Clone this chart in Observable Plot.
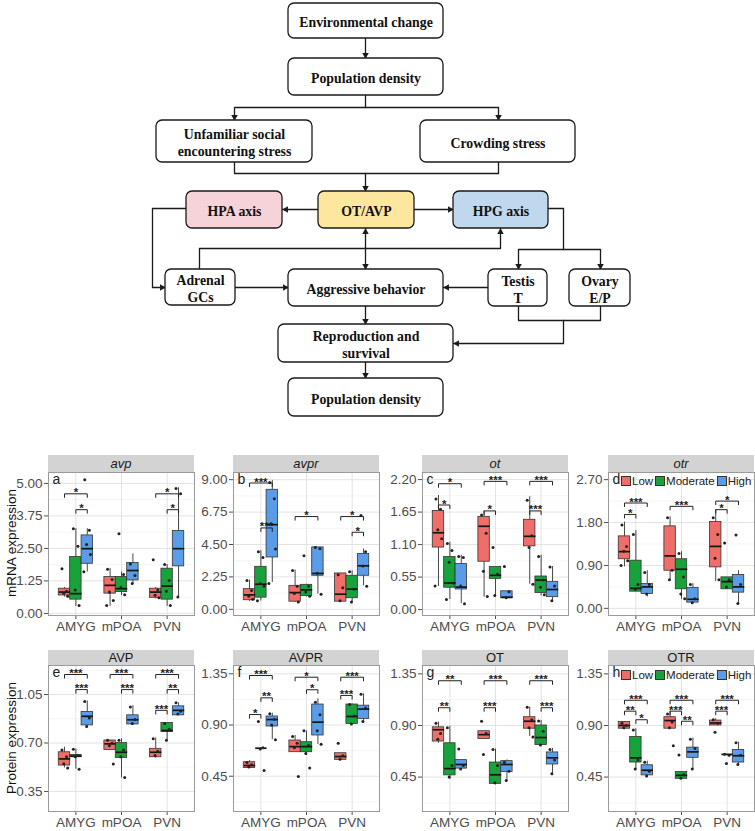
<!DOCTYPE html>
<html><head><meta charset="utf-8">
<script src="https://cdn.jsdelivr.net/npm/d3@7"></script>
<script src="https://cdn.jsdelivr.net/npm/@observablehq/plot@0.6"></script>
<style>
body{margin:0;background:#fff;}
#root{position:relative;width:755px;height:831px;overflow:hidden;font-family:"Liberation Sans",Arial,sans-serif;background:#fff;}
#root svg{overflow:visible;}
.strip{position:absolute;background:#d3d3d3;color:#1a1a1a;font-size:13px;text-align:center;}
.ytitle{position:absolute;font-size:13.5px;color:#111;white-space:nowrap;transform:translate(-50%,-50%) rotate(-90deg);}
.legend{position:absolute;font-size:11.5px;color:#222;display:flex;align-items:center;white-space:nowrap;}
.legend .key{display:inline-block;width:8px;height:8px;border:1px solid #333;margin:0 1px 0 2px;}
</style></head><body><div id="root"></div><script>
// ---------------- flowchart data ----------------
const flowNodes = [
  {label:"Environmental change", x1:288, x2:443, y1:3, y2:38, fill:"#ffffff"},
  {label:"Population density", x1:288, x2:443, y1:58, y2:95, fill:"#ffffff"},
  {label:"Unfamiliar social\nencountering stress", x1:156, x2:312, y1:120, y2:162, fill:"#ffffff"},
  {label:"Crowding stress", x1:420, x2:575, y1:120, y2:162, fill:"#ffffff"},
  {label:"HPA axis", x1:186, x2:282, y1:191, y2:228, fill:"#f6d2d9"},
  {label:"OT/AVP", x1:318, x2:414, y1:191, y2:228, fill:"#fde69d"},
  {label:"HPG axis", x1:453, x2:548, y1:191, y2:228, fill:"#bfd8ee"},
  {label:"Adrenal\nGCs", x1:165, x2:235, y1:269, y2:305, fill:"#ffffff"},
  {label:"Aggressive behavior", x1:288, x2:443, y1:269, y2:306, fill:"#ffffff"},
  {label:"Testis\nT", x1:488, x2:547, y1:269, y2:306, fill:"#ffffff"},
  {label:"Ovary\nE/P", x1:569, x2:630, y1:269, y2:306, fill:"#ffffff"},
  {label:"Reproduction and\nsurvival", x1:278, x2:453, y1:324, y2:362, fill:"#ffffff"},
  {label:"Population density", x1:288, x2:443, y1:378, y2:416, fill:"#ffffff"}
];
const flowEdges = [
  {pts:[[365,38],[365,58]], head:"end"},
  {pts:[[365,95],[365,107],[234,107],[234,120]], head:"end"},
  {pts:[[365,107],[498,107],[498,120]], head:"end"},
  {pts:[[234,162],[234,173],[498,173],[498,162]], head:"none"},
  {pts:[[365,173],[365,191]], head:"end"},
  {pts:[[318,209],[282,209]], head:"end"},
  {pts:[[414,209],[453,209]], head:"end"},
  {pts:[[186,208],[152,208],[152,287],[165,287]], head:"end"},
  {pts:[[199,269],[199,248],[500,248],[500,228]], head:"end"},
  {pts:[[365,228],[365,269]], head:"both"},
  {pts:[[235,287],[288,287]], head:"end"},
  {pts:[[548,208],[563,208],[563,249],[518,249],[518,269]], head:"end"},
  {pts:[[563,249],[600,249],[600,269]], head:"end"},
  {pts:[[488,287],[443,287]], head:"end"},
  {pts:[[518,306],[518,320],[600,320],[600,306]], head:"none"},
  {pts:[[563,320],[563,343],[453,343]], head:"end"},
  {pts:[[365,306],[365,324]], head:"end"},
  {pts:[[365,362],[365,378]], head:"end"}
];

// ---------------- box plot data ----------------
const regions = ["AMYG","mPOA","PVN"];
const groups = ["Low","Moderate","High"];
const groupColors = ["#ef6e69","#17a23c","#5b9ce8"];
const panelTitles = ["avp","avpr","ot","otr","AVP","AVPR","OT","OTR"];
const panelLetters = ["a","b","c","d","e","f","g","h"];
const yTitles = ["mRNA expression","Protein expression"];
const yTicks = [
  [0,1.25,2.5,3.75,5],[0,2.25,4.5,6.75,9],[0,0.55,1.1,1.65,2.2],[0,0.9,1.8,2.7],
  [0.35,0.7,1.05],[0.45,0.9,1.35],[0.45,0.9,1.35],[0.45,0.9,1.35]
];
const yDomains = [
  [-0.08,5.42],[-0.43,9.5],[-0.1,2.32],[-0.15,2.85],
  [0.205,1.26],[0.14,1.423],[0.15,1.423],[0.15,1.423]
];
// rows: region, group, lower whisker, q1, median, q3, upper whisker, observations
const avpRows = [
  ["AMYG","Low",0.63,0.69,0.82,0.95,1.0,[1.72,0.85,0.78,0.66]],
  ["AMYG","Moderate",0.27,0.53,0.76,2.17,3.26,[3.26,2.58,0.9,0.3]],
  ["AMYG","High",1.59,1.91,2.49,3.0,3.26,[5.14,3.2,2.65,2.27,1.6]],
  ["mPOA","Low",0.27,0.76,1.08,1.40,1.72,[1.7,1.3,0.82,0.5,0.3]],
  ["mPOA","Moderate",0.69,0.82,0.95,1.40,1.59,[3.06,1.5,1.0,0.72]],
  ["mPOA","High",1.12,1.27,1.65,1.94,2.29,[1.9,1.46,1.15]],
  ["PVN","Low",0.56,0.60,0.82,0.95,1.0,[2.06,0.9,0.7,0.6]],
  ["PVN","Moderate",0.27,0.53,1.05,1.72,1.88,[1.88,1.27,0.85,0.3]],
  ["PVN","High",0.63,1.81,2.49,3.17,4.83,[4.8,4.6,0.63]]
];
const avprRows = [
  ["AMYG","Low",0.55,0.63,1.0,1.40,2.02,[2.0,1.3,0.9,0.7]],
  ["AMYG","Moderate",0.58,0.81,1.74,2.95,4.07,[4.0,3.6,1.8,1.6,0.6]],
  ["AMYG","High",1.86,3.60,5.88,8.30,8.95,[8.8,7.67,5.9,4.19,1.8]],
  ["mPOA","Low",0.47,0.53,1.16,1.63,2.72,[2.7,1.6,1.1,0.5]],
  ["mPOA","Moderate",0.86,0.93,1.35,1.70,1.74,[3.72,1.6,1.2,0.9]],
  ["mPOA","High",1.05,2.33,2.49,4.30,4.30,[4.3,4.2,2.5,1.05]],
  ["PVN","Low",0.53,0.53,1.05,2.49,2.49,[2.4,1.5,0.6]],
  ["PVN","Moderate",0.47,0.77,1.40,2.33,2.67,[2.6,1.4,0.5]],
  ["PVN","High",1.63,2.33,3.02,3.84,4.19,[6.51,4.0,3.0,1.6]]
];
const otRows = [
  ["AMYG","Low",0.39,1.05,1.30,1.67,1.93,[1.87,1.7,1.35,1.2,0.4]],
  ["AMYG","Moderate",0.17,0.37,0.45,0.89,1.14,[1.12,1.0,0.8,0.45,0.17]],
  ["AMYG","High",0.10,0.34,0.38,0.77,0.92,[0.9,0.88,0.4,0.1]],
  ["mPOA","Low",0.21,0.81,1.41,1.57,1.67,[1.6,1.29,0.65,0.22]],
  ["mPOA","Moderate",0.24,0.52,0.58,0.72,0.72,[1.05,0.6,0.24]],
  ["mPOA","High",0.19,0.19,0.21,0.31,0.31,[0.73,0.3,0.2]],
  ["PVN","Low",0.43,1.07,1.24,1.52,1.91,[1.85,1.25,1.05,0.43]],
  ["PVN","Moderate",0.23,0.28,0.50,0.56,0.92,[0.9,0.5,0.38,0.25]],
  ["PVN","High",0.13,0.21,0.34,0.47,0.73,[0.72,0.4,0.15]]
];
const otrRows = [
  ["AMYG","Low",0.87,1.03,1.19,1.51,1.81,[1.75,1.3,1.2,1.0,0.9]],
  ["AMYG","Moderate",0.35,0.35,0.42,1.0,1.63,[1.55,0.5,0.4]],
  ["AMYG","High",0.24,0.30,0.45,0.51,0.79,[0.75,0.5,0.3]],
  ["mPOA","Low",0.58,0.79,1.10,1.72,1.92,[1.9,0.8,0.6]],
  ["mPOA","Moderate",0.19,0.40,0.82,1.03,1.19,[1.15,0.66,0.3,0.2]],
  ["mPOA","High",0.10,0.12,0.19,0.43,0.52,[0.5,0.2,0.12]],
  ["PVN","Low",0.56,0.86,1.30,1.81,2.07,[1.9,1.55,1.05,0.6]],
  ["PVN","Moderate",0.40,0.40,0.56,0.65,0.65,[1.37,0.6,0.45]],
  ["PVN","High",0.10,0.33,0.45,0.70,0.79,[1.54,0.5,0.1]]
];
const avpProtRows = [
  ["AMYG","Low",0.52,0.537,0.585,0.633,0.67,[0.65,0.6,0.55,0.52]],
  ["AMYG","Moderate",0.51,0.597,0.605,0.614,0.657,[0.655,0.61,0.6,0.51]],
  ["AMYG","High",0.81,0.827,0.893,0.924,1.004,[1.0,0.88,0.82]],
  ["mPOA","Low",0.65,0.65,0.694,0.718,0.72,[0.72,0.7,0.68,0.549]],
  ["mPOA","Moderate",0.447,0.592,0.633,0.699,0.73,[0.72,0.65,0.6,0.45]],
  ["mPOA","High",0.827,0.834,0.868,0.90,0.97,[0.96,0.87,0.84]],
  ["PVN","Low",0.59,0.597,0.633,0.658,0.737,[0.73,0.64,0.61]],
  ["PVN","Moderate",0.723,0.779,0.79,0.844,0.844,[0.84,0.8,0.72]],
  ["PVN","High",0.90,0.90,0.936,0.965,0.99,[0.99,0.93,0.91]]
];
const avprProtRows = [
  ["AMYG","Low",0.523,0.523,0.544,0.573,0.588,[0.57,0.55,0.53]],
  ["AMYG","Moderate",0.696,0.696,0.696,0.696,0.696,[0.93,0.70,0.69,0.5]],
  ["AMYG","High",0.77,0.887,0.948,0.975,1.004,[1.0,0.95,0.9,0.77]],
  ["mPOA","Low",0.661,0.661,0.71,0.764,0.808,[0.8,0.74,0.7,0.447]],
  ["mPOA","Moderate",0.632,0.661,0.71,0.749,0.846,[0.85,0.72,0.65,0.523]],
  ["mPOA","High",0.729,0.808,0.925,1.08,1.13,[1.1,0.99,0.85,0.73]],
  ["PVN","Low",0.594,0.594,0.623,0.652,0.652,[0.74,0.63,0.6]],
  ["PVN","Moderate",0.904,0.91,0.975,1.08,1.086,[1.08,0.98,0.91]],
  ["PVN","High",0.925,0.954,1.04,1.07,1.174,[1.17,1.05,0.93]]
];
const otProtRows = [
  ["AMYG","Low",0.745,0.76,0.863,0.884,0.93,[0.92,0.83,0.78]],
  ["AMYG","Moderate",0.43,0.465,0.524,0.745,0.893,[0.88,0.55,0.45]],
  ["AMYG","High",0.51,0.524,0.56,0.598,0.598,[0.695,0.55,0.52]],
  ["mPOA","Low",0.783,0.783,0.82,0.85,0.85,[0.937,0.83,0.648]],
  ["mPOA","Moderate",0.382,0.391,0.47,0.577,0.695,[0.69,0.55,0.4]],
  ["mPOA","High",0.42,0.494,0.56,0.589,0.6,[0.58,0.5,0.42]],
  ["PVN","Low",0.804,0.872,0.937,0.972,1.06,[1.06,0.95,0.88,0.8]],
  ["PVN","Moderate",0.724,0.73,0.795,0.90,0.943,[0.94,0.85,0.73]],
  ["PVN","High",0.48,0.56,0.618,0.665,0.70,[0.69,0.6,0.48]]
];
const otrProtRows = [
  ["AMYG","Low",0.863,0.872,0.90,0.931,0.931,[0.92,0.9,0.88]],
  ["AMYG","Moderate",0.51,0.577,0.618,0.80,0.872,[0.86,0.6,0.52]],
  ["AMYG","High",0.45,0.465,0.51,0.553,0.589,[0.58,0.5,0.46]],
  ["mPOA","Low",0.872,0.872,0.943,0.972,1.025,[1.0,0.93,0.88,0.724]],
  ["mPOA","Moderate",0.435,0.435,0.465,0.494,0.494,[0.642,0.47,0.44]],
  ["mPOA","High",0.518,0.618,0.67,0.707,0.79,[0.78,0.7,0.52]],
  ["PVN","Low",0.90,0.90,0.922,0.943,0.96,[0.95,0.92,0.842]],
  ["PVN","Moderate",0.648,0.648,0.648,0.648,0.648,[0.65,0.64,0.568]],
  ["PVN","High",0.553,0.577,0.636,0.686,0.754,[0.75,0.64,0.56]]
];
// significance brackets: region, group A, group B, bracket level, label
const avpSig = [["AMYG","Low","High",4.60,"*"],["AMYG","Moderate","High",3.99,"*"],["PVN","Low","High",4.60,"*"],["PVN","Moderate","High",3.99,"*"]];
const avprSig = [["AMYG","Low","High",8.77,"***"],["AMYG","Moderate","High",5.65,"***"],["mPOA","Low","High",6.44,"*"],["PVN","Low","High",6.44,"*"],["PVN","Moderate","High",5.35,"*"]];
const otSig = [["AMYG","Low","High",2.13,"*"],["AMYG","Low","Moderate",1.77,"*"],["mPOA","Low","High",2.17,"***"],["mPOA","Low","Moderate",1.67,"*"],["PVN","Low","High",2.17,"***"],["PVN","Low","Moderate",1.67,"***"]];
const otrSig = [["AMYG","Low","High",2.21,"***"],["AMYG","Low","Moderate",1.97,"*"],["mPOA","Low","High",2.14,"***"],["PVN","Low","High",2.25,"*"],["PVN","Low","Moderate",2.07,"*"]];
const avpProtSig = [["AMYG","Low","High",1.195,"***"],["AMYG","Moderate","High",1.086,"***"],["mPOA","Low","High",1.195,"***"],["mPOA","Moderate","High",1.086,"***"],["PVN","Low","High",1.195,"***"],["PVN","Moderate","High",1.086,"**"],["PVN","Low","Moderate",0.936,"***"]];
const avprProtSig = [["AMYG","Low","High",1.335,"***"],["AMYG","Low","Moderate",0.992,"*"],["AMYG","Moderate","High",1.139,"**"],["mPOA","Low","High",1.32,"*"],["mPOA","Moderate","High",1.21,"*"],["PVN","Low","High",1.32,"***"],["PVN","Low","Moderate",1.16,"***"]];
const otProtSig = [["AMYG","Low","High",1.29,"**"],["AMYG","Low","Moderate",1.055,"**"],["mPOA","Low","High",1.29,"***"],["mPOA","Low","Moderate",1.055,"***"],["PVN","Low","High",1.29,"***"],["PVN","Moderate","High",1.055,"***"]];
const otrProtSig = [["AMYG","Low","High",1.12,"***"],["AMYG","Low","Moderate",1.025,"**"],["AMYG","Moderate","High",0.95,"*"],["mPOA","Low","High",1.12,"***"],["mPOA","Low","Moderate",1.025,"***"],["mPOA","Moderate","High",0.937,"**"],["PVN","Low","High",1.12,"***"],["PVN","Low","Moderate",1.025,"***"]];

const panelRows = [avpRows,avprRows,otRows,otrRows,avpProtRows,avprProtRows,otProtRows,otrProtRows];
const panelSig = [avpSig,avprSig,otSig,otrSig,avpProtSig,avprProtSig,otProtSig,otrProtSig];

// ---------------- layout (styling) ----------------
const root = document.getElementById("root");
const frameLefts = [48,233,422,608];
const frameW = 146;
const rowGeom = [{strip:455, top:472, h:143}, {strip:650, top:665, h:146}];
const ML = 40;
const serif = "Liberation Serif, Times New Roman, serif";
const sans = "Liberation Sans, Arial, sans-serif";

function place(el, left, top) {
  el.style.position = "absolute"; el.style.left = left + "px"; el.style.top = top + "px";
  root.appendChild(el);
}

// ---------------- flowchart ----------------
const edgeRows = [];
const heads = [];
flowEdges.forEach((e, i) => {
  e.pts.forEach(p => edgeRows.push({id: i, x: p[0], y: p[1]}));
  const addHead = (a, b) => {
    const dx = b[0]-a[0], dy = b[1]-a[1], L = Math.hypot(dx, dy);
    const ux = dx/L, uy = dy/L;
    heads.push({x: b[0]-ux*3.6, y: b[1]-uy*3.6, rot: Math.atan2(ux, -uy)*180/Math.PI});
  };
  const n = e.pts.length;
  if (e.head === "end" || e.head === "both") addHead(e.pts[n-2], e.pts[n-1]);
  if (e.head === "both") addHead(e.pts[1], e.pts[0]);
});
const flow = Plot.plot({
  width: 755, height: 425, margin: 0,
  x: {domain: [0, 755], range: [0, 755], axis: null},
  y: {domain: [0, 425], range: [0, 425], axis: null},
  marks: [
    Plot.line(edgeRows, {x: "x", y: "y", z: "id", stroke: "#1a1a1a", strokeWidth: 1.3, curve: "linear"}),
    Plot.dot(heads, {x: "x", y: "y", rotate: "rot", symbol: "triangle", r: 2.4, fill: "#1a1a1a", stroke: "none"}),
    Plot.rect(flowNodes, {x1: "x1", x2: "x2", y1: "y1", y2: "y2", fill: "fill", stroke: "#1a1a1a", strokeWidth: 1.3, rx: 6}),
    Plot.text(flowNodes, {x: d => (d.x1+d.x2)/2, y: d => (d.y1+d.y2)/2 + 1, text: "label",
      fontFamily: serif, fontWeight: "bold", fontSize: 13.8, lineHeight: 1.22, fill: "#111"})
  ]
});
place(flow, 0, 0);

// ---------------- panels ----------------
const jitter = [-0.055, 0.045, -0.015, 0.07, -0.075, 0.02];
function groupX(region, group) {
  return regions.indexOf(region) + 1 + (groups.indexOf(group) - 1) * 0.25;
}
function makePanel(i) {
  const rows = panelRows[i].map(([r, g, lo, q1, med, q3, hi, pts]) => ({r, g, lo, q1, med, q3, hi, pts, xc: groupX(r, g)}));
  const points = rows.flatMap(d => d.pts.map((v, k) => ({x: d.xc + jitter[k % jitter.length], y: v})));
  const dom = yDomains[i];
  const tip = (dom[1] - dom[0]) * 0.025;
  const sig = panelSig[i].map(([r, a, b, y, label], k) => ({k, r, xa: groupX(r, a), xb: groupX(r, b), y, label}));
  const sigLines = sig.flatMap(s => [
    {k: s.k, x: s.xa, y: s.y - tip}, {k: s.k, x: s.xa, y: s.y}, {k: s.k, x: s.xb, y: s.y}, {k: s.k, x: s.xb, y: s.y - tip}
  ]);
  const ticks = yTicks[i];
  const step = ticks[1] - ticks[0];
  const minor = [ticks[0] - step/2, ...ticks.map(t => t + step/2)].filter(t => t > dom[0] && t < dom[1]);
  const row = i < 4 ? 0 : 1;
  const g = rowGeom[row];
  const hw = 0.125;
  const plot = Plot.plot({
    width: ML + frameW + 1, height: g.h + 1 + 28,
    marginLeft: ML, marginRight: 1, marginTop: 1, marginBottom: 28,
    style: {fontFamily: sans, fontSize: "13.5px", color: "#4d4d4d", background: "transparent", overflow: "visible"},
    x: {domain: [0.4, 3.6], ticks: [1, 2, 3], tickFormat: d => regions[d - 1], tickSize: 4, tickPadding: 2, label: null},
    y: {domain: dom, ticks: ticks, tickFormat: d3.format(".2f"), tickSize: 4, tickPadding: 2, label: null},
    color: {domain: groups, range: groupColors},
    marks: [
      Plot.ruleY(minor, {stroke: "#f2f2f2", strokeWidth: 0.8}),
      Plot.ruleY(ticks, {stroke: "#e3e3e3", strokeWidth: 1}),
      Plot.ruleX([1, 2, 3], {stroke: "#e3e3e3", strokeWidth: 1}),
      Plot.ruleX(rows, {x: "xc", y1: "lo", y2: "q1", stroke: "#333", strokeWidth: 0.9}),
      Plot.ruleX(rows, {x: "xc", y1: "q3", y2: "hi", stroke: "#333", strokeWidth: 0.9}),
      Plot.rect(rows, {x1: d => d.xc - hw, x2: d => d.xc + hw, y1: "q1", y2: "q3", fill: "g", stroke: "#333", strokeWidth: 0.8}),
      Plot.link(rows, {x1: d => d.xc - hw, x2: d => d.xc + hw, y1: "med", y2: "med", stroke: "#151515", strokeWidth: 1.7}),
      Plot.dot(points, {x: "x", y: "y", r: 1.5, fill: "#222", stroke: "none"}),
      Plot.line(sigLines, {x: "x", y: "y", z: "k", stroke: "#222", strokeWidth: 1}),
      Plot.text(sig, {x: d => (d.xa + d.xb)/2, y: "y", text: "label", lineAnchor: "bottom", dy: 2.5, fontSize: 11.5, fontWeight: "bold", fill: "#222"}),
      Plot.text([panelLetters[i]], {frameAnchor: "top-left", dx: 4, dy: 2, fontSize: 14, fill: "#222", lineAnchor: "top"}),
      Plot.frame({stroke: "#9a9a9a", strokeWidth: 1})
    ]
  });
  place(plot, frameLefts[i % 4] - ML, g.top - 1);
  const strip = document.createElement("div");
  strip.className = "strip";
  strip.textContent = panelTitles[i];
  if (row === 0) strip.style.fontStyle = "italic";
  strip.style.width = frameW + "px";
  strip.style.height = (g.top - g.strip) + "px";
  strip.style.lineHeight = (g.top - g.strip) + "px";
  place(strip, frameLefts[i % 4], g.strip);
}
for (let i = 0; i < 8; i++) makePanel(i);

[[0, 543], [1, 738]].forEach(([r, cy]) => {
  const t = document.createElement("div");
  t.className = "ytitle";
  t.textContent = yTitles[r];
  place(t, 11, cy);
});
[[482], [676]].forEach(([cy]) => {
  const lg = document.createElement("div");
  lg.className = "legend";
  groups.forEach((g, k) => {
    const key = document.createElement("span");
    key.className = "key"; key.style.background = groupColors[k];
    const lab = document.createElement("span");
    lab.textContent = g;
    lg.appendChild(key); lg.appendChild(lab);
  });
  place(lg, 619, cy - 7);
});
</script></body></html>
